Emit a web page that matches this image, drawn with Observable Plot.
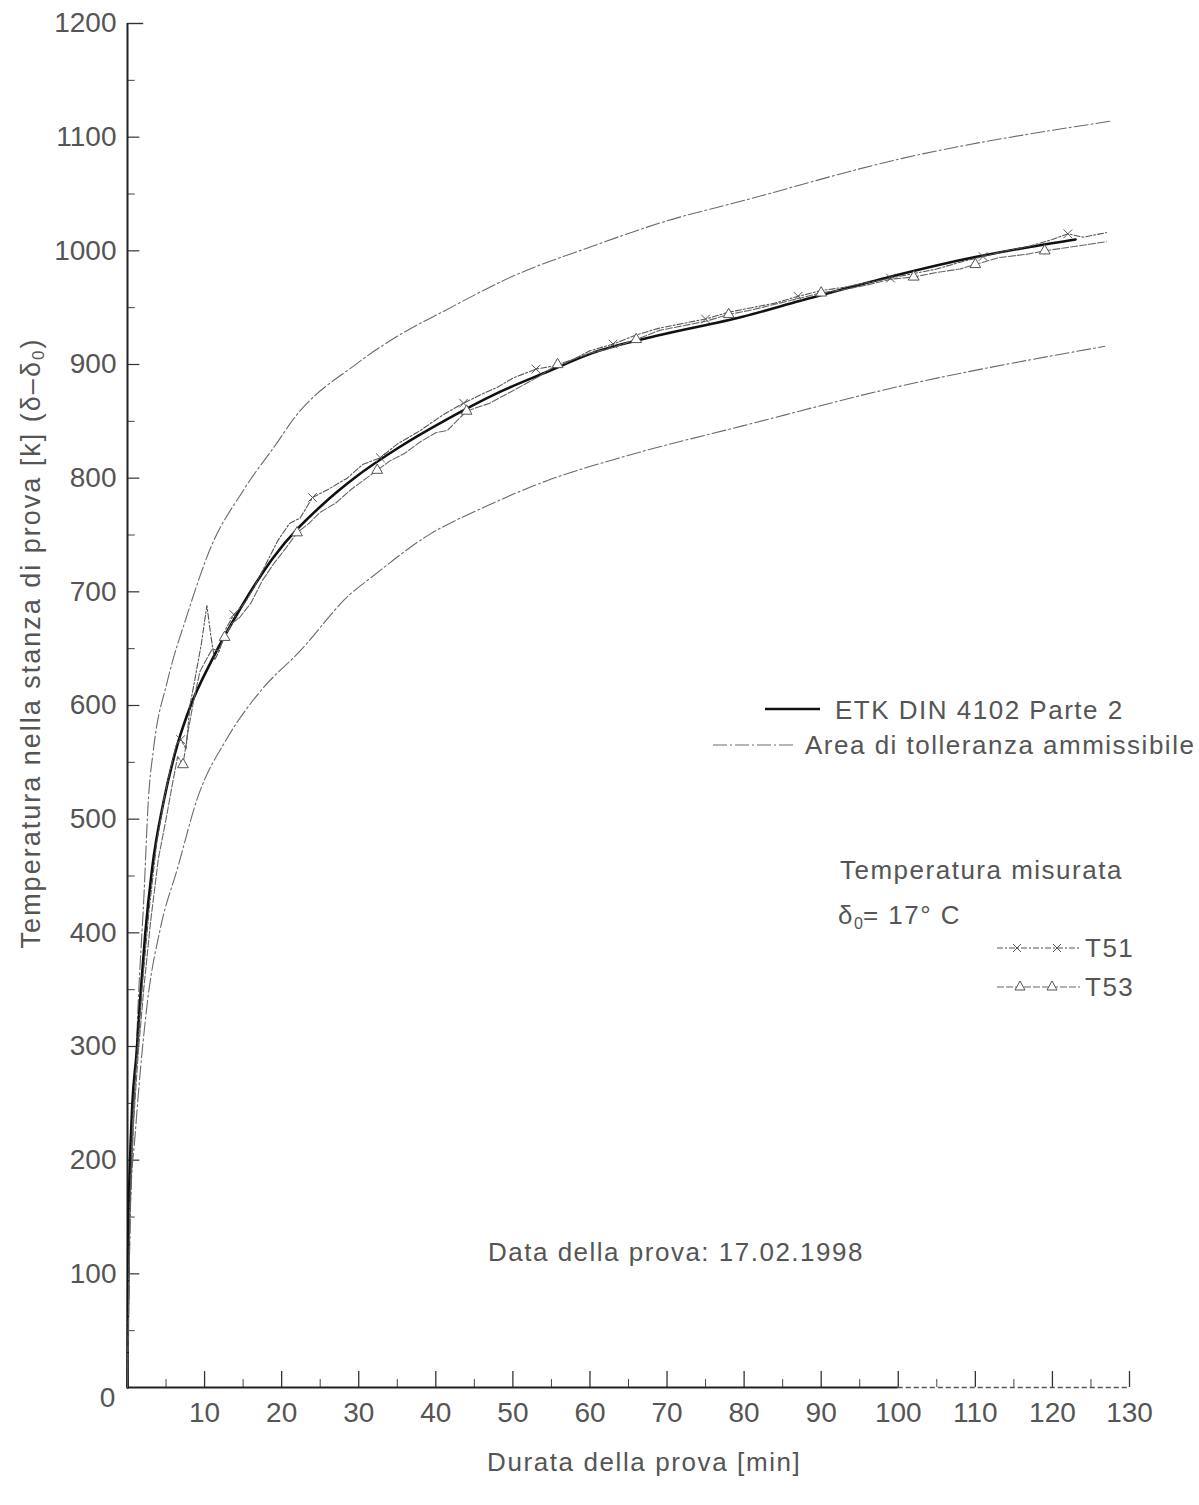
<!DOCTYPE html>
<html>
<head>
<meta charset="utf-8">
<script src="https://cdn.jsdelivr.net/npm/d3@7"></script>
<script src="https://cdn.jsdelivr.net/npm/@observablehq/plot@0.6"></script>
<style>
  html, body { margin: 0; padding: 0; background: #fff; }
  #wrap { position: relative; width: 1199px; height: 1505px; font-family: "Liberation Sans", Arial, sans-serif; }
  #wrap svg { display: block; }
</style>
</head>
<body>
<div id="wrap"></div>
<script>
// ---- tick values ----
const xTicks = [10, 20, 30, 40, 50, 60, 70, 80, 90, 100, 110, 120, 130];
const xMinor = [5, 15, 25, 35, 45, 55, 65, 75, 85, 95, 105, 115, 125];
const yTicks = [100, 200, 300, 400, 500, 600, 700, 800, 900, 1000, 1100, 1200];
const yMinor = [50, 150, 250, 350, 450, 550, 650, 750, 850, 950, 1050, 1150];

// ---- ETK DIN 4102 Parte 2 (time [min], temperature rise [K]) ----
const etkT = [0, 0.1, 0.3, 0.6, 1.2, 1.7, 2.3, 3.2, 4.7, 6.5, 8.2, 10.8, 14.7, 18.9, 25.5, 29.4, 35.2, 41.5, 47.7, 54.6, 60.3, 68.5, 79.8, 87.3, 97.7, 108.9, 116.7, 123];
const etkV = [0, 135, 193, 246, 296, 347, 399, 457, 516, 566, 600, 638, 686, 730, 778, 800, 827, 852, 874, 894, 910, 925, 942, 956, 975, 993, 1003, 1010];

// ---- Area di tolleranza: upper limit ----
const upT = [0, 0.4, 0.9, 1.4, 2.1, 2.7, 3.4, 5.2, 7.8, 10.8, 15.0, 19.8, 21.1, 29.8, 36.3, 40.5, 50.1, 60.3, 69.8, 79.8, 100.3, 127.5];
const upV = [0, 164, 252, 340, 428, 516, 563, 622, 681, 739, 789, 835, 848, 901, 930, 945, 978, 1004, 1026, 1044, 1081, 1114];

// ---- Area di tolleranza: lower limit ----
const loT = [0, 0.4, 1.0, 1.7, 2.6, 4.3, 6.5, 9.1, 13.0, 17.3, 22.4, 28.9, 31.5, 39.3, 45.8, 54.5, 63.9, 79.8, 100.3, 126.8];
const loV = [0, 164, 223, 281, 340, 405, 457, 519, 572, 613, 648, 698, 712, 751, 773, 798, 818, 846, 881, 916];

// ---- Temperatura misurata T51 ----
const t51T = [0, 0.3, 0.7, 1.3, 2.0, 2.8, 3.8, 4.8, 5.6, 6.3, 6.9, 7.6, 8.1, 8.8, 9.6, 10.3, 10.8, 11.3, 11.9, 12.8, 13.8, 15.2, 16.5, 18.0, 19.5, 21.0, 22.4, 24.0, 26.0, 28.5, 30.5, 32.8, 35.0, 38.0, 41.0, 43.6, 46.0, 48.0, 50.0, 53.0, 56.5, 60.0, 63.0, 66.0, 69.0, 72.0, 75.0, 78.0, 81.0, 84.0, 87.0, 90.0, 93.0, 96.0, 99.0, 102.0, 105.0, 108.0, 111.0, 114.0, 117.0, 120.0, 122.0, 124.0, 127.0];
const t51V = [0, 160, 240, 300, 360, 420, 480, 520, 545, 565, 570, 562, 600, 625, 655, 688, 662, 640, 648, 668, 680, 690, 705, 725, 745, 760, 765, 783, 790, 800, 812, 818, 830, 842, 856, 866, 874, 880, 888, 896, 900, 912, 918, 926, 932, 936, 940, 946, 950, 954, 960, 965, 968, 972, 976, 980, 984, 990, 995, 1000, 1004, 1010, 1015, 1012, 1016];
const t51Marks = [6.9, 13.8, 24.0, 32.8, 43.6, 53.0, 63.0, 75.0, 87.0, 99.0, 111.0, 122.0];

// ---- Temperatura misurata T53 ----
const t53T = [0, 0.3, 0.8, 1.4, 2.1, 3.0, 4.0, 5.0, 5.8, 6.5, 7.2, 7.8, 8.6, 9.4, 10.2, 11.0, 11.8, 12.6, 13.5, 14.5, 16.0, 17.5, 19.0, 20.5, 22.0, 23.5, 25.0, 27.0, 29.0, 31.0, 32.4, 34.0, 36.0, 38.0, 40.0, 41.5, 44.0, 47.0, 50.0, 53.0, 55.8, 58.0, 60.0, 63.0, 66.0, 69.0, 72.0, 75.0, 78.0, 81.0, 84.0, 87.0, 90.0, 93.0, 96.0, 99.0, 102.0, 105.0, 108.0, 110.0, 113.0, 116.7, 119.0, 122.0, 125.0, 127.0];
const t53V = [0, 150, 235, 295, 350, 410, 465, 500, 530, 555, 548, 575, 605, 630, 640, 650, 648, 660, 672, 677, 690, 710, 725, 738, 752, 760, 770, 778, 790, 800, 807, 815, 822, 832, 840, 842, 859, 866, 877, 888, 900, 905, 910, 915, 922, 930, 934, 938, 944, 948, 953, 958, 963, 966, 970, 975, 977, 981, 984, 988, 994, 997, 1000, 1003, 1006, 1008];
const t53Marks = [7.2, 12.6, 22.0, 32.4, 44.0, 55.8, 66.0, 78.0, 90.0, 102.0, 110.0, 119.0];

const zip = (ts, vs) => ts.map((t, i) => ({t, v: vs[i]}));
const etk = zip(etkT, etkV);
const up = zip(upT, upV);
const lo = zip(loT, loV);
const t51 = zip(t51T, t51V);
const t53 = zip(t53T, t53V);
const t51Pts = t51.filter(d => t51Marks.includes(d.t));
const t53Pts = t53.filter(d => t53Marks.includes(d.t));

const TXT = "#555";
const FONT = "Liberation Sans, Arial, Helvetica, sans-serif";
const tolDash = "14,3,2,3";
const plain = d => String(d);

const chart = Plot.plot({
  width: 1199,
  height: 1505,
  marginTop: 23,
  marginRight: 70,
  marginBottom: 118,
  marginLeft: 127,
  x: {domain: [0, 130]},
  y: {domain: [0, 1200]},
  style: {fontFamily: FONT, color: TXT, background: "#fff", overflow: "visible"},
  marks: [
    // tick labels
    Plot.axisY({ticks: yTicks, tickFormat: plain, tickSize: 0, tickPadding: 11, fontSize: 28, label: null, fill: TXT}),
    Plot.axisX({ticks: xTicks, tickFormat: plain, tickSize: 0, tickPadding: 15, fontSize: 28, label: null, fill: TXT}),
    Plot.text([0], {x: d => d, y: d => d, text: plain, dx: -20, dy: 11, fontSize: 28, fill: TXT}),
    // inward tick marks
    Plot.ruleY(yTicks.filter(v => v < 1200), {x1: 0, x2: 1.6, stroke: "#333", strokeWidth: 1.2}),
    Plot.ruleY([1200], {x1: 0, x2: 2.1, stroke: "#333", strokeWidth: 1.4}),
    Plot.ruleY(yMinor, {x1: 0, x2: 1.0, stroke: "#444", strokeWidth: 1}),
    Plot.ruleX(xTicks, {y1: 0, y2: 14, stroke: "#333", strokeWidth: 1.3}),
    Plot.ruleX(xMinor, {y1: 0, y2: 7, stroke: "#444", strokeWidth: 1}),
    // axis lines
    Plot.ruleX([0], {y1: 0, y2: 1200, stroke: "#222", strokeWidth: 2}),
    Plot.ruleY([0], {x1: 0, x2: 100, stroke: "#222", strokeWidth: 2}),
    Plot.ruleY([0], {x1: 100, x2: 130, stroke: "#555", strokeWidth: 1.3, strokeDasharray: "5,3"}),
    // tolerance area limits
    Plot.line(up, {x: "t", y: "v", stroke: "#6a6a6a", strokeWidth: 1.1, strokeDasharray: tolDash, curve: "monotone-x"}),
    Plot.line(lo, {x: "t", y: "v", stroke: "#6a6a6a", strokeWidth: 1.1, strokeDasharray: tolDash, curve: "monotone-x"}),
    // ETK curve
    Plot.line(etk, {x: "t", y: "v", stroke: "#111", strokeWidth: 2.6, curve: "monotone-x"}),
    // measured temperatures
    Plot.line(t53, {x: "t", y: "v", stroke: "#666", strokeWidth: 1.1, strokeDasharray: "7,2"}),
    Plot.line(t51, {x: "t", y: "v", stroke: "#555", strokeWidth: 1.1, strokeDasharray: "6,2,2,2"}),
    Plot.dot(t51Pts, {x: "t", y: "v", symbol: "times", r: 4, stroke: "#555", strokeWidth: 1}),
    Plot.dot(t53Pts, {x: "t", y: "v", symbol: "triangle", r: 4, stroke: "#555", fill: "#fff", strokeWidth: 1})
  ]
});
const wrap = document.getElementById("wrap");
chart.style.position = "absolute";
chart.style.left = "0px";
chart.style.top = "0px";
wrap.appendChild(chart);

// ---- annotation overlay: axis titles, legend, note ----
const ov = d3.select(wrap).append("svg")
  .attr("width", 1199).attr("height", 1505)
  .style("position", "absolute").style("left", "0px").style("top", "0px")
  .style("pointer-events", "none")
  .attr("font-family", FONT).attr("fill", TXT);

function label(x, y, str, size = 26, spacing = 1.5) {
  return ov.append("text").attr("x", x).attr("y", y)
    .attr("font-size", size).attr("letter-spacing", spacing)
    .attr("dominant-baseline", "central").text(str);
}

// axis titles
label(487, 1462, "Durata della prova [min]", 26, 1.6);
const yt = ov.append("text")
  .attr("transform", "translate(31,643) rotate(-90)")
  .attr("text-anchor", "middle").attr("dominant-baseline", "central")
  .attr("font-size", 27).attr("letter-spacing", 2);
yt.append("tspan").text("Temperatura nella stanza di prova [k] (δ–δ");
yt.append("tspan").attr("font-size", 17).attr("dy", 7).text("0");
yt.append("tspan").attr("dy", -7).text(")");

// legend: reference curve and tolerance
ov.append("line").attr("x1", 765).attr("x2", 820).attr("y1", 709).attr("y2", 709)
  .attr("stroke", "#111").attr("stroke-width", 2.6);
label(835, 710, "ETK DIN 4102 Parte 2");
ov.append("line").attr("x1", 713).attr("x2", 794).attr("y1", 745).attr("y2", 745)
  .attr("stroke", "#6a6a6a").attr("stroke-width", 1.1).attr("stroke-dasharray", tolDash);
label(805, 745, "Area di tolleranza ammissibile");

// legend: measured
label(840, 870, "Temperatura misurata");
const d0 = label(838, 915, "δ");
d0.append("tspan").attr("font-size", 16).attr("dy", 8).attr("letter-spacing", 0).text("0");
d0.append("tspan").attr("dy", -8).text("= 17° C");

ov.append("line").attr("x1", 997).attr("x2", 1080).attr("y1", 948).attr("y2", 948)
  .attr("stroke", "#555").attr("stroke-width", 1.1).attr("stroke-dasharray", "6,2,2,2");
[1017, 1057].forEach(x => ov.append("path")
  .attr("d", `M${x - 4},944L${x + 4},952M${x - 4},952L${x + 4},944`)
  .attr("stroke", "#555").attr("fill", "none"));
label(1085, 948, "T51");

ov.append("line").attr("x1", 997).attr("x2", 1080).attr("y1", 987).attr("y2", 987)
  .attr("stroke", "#666").attr("stroke-width", 1.1).attr("stroke-dasharray", "7,2");
[1020, 1052].forEach(x => ov.append("path")
  .attr("d", `M${x},981L${x + 5},990L${x - 5},990Z`)
  .attr("stroke", "#555").attr("fill", "#fff"));
label(1085, 987, "T53");

// test date note
label(488, 1252, "Data della prova: 17.02.1998");
</script>
</body>
</html>
